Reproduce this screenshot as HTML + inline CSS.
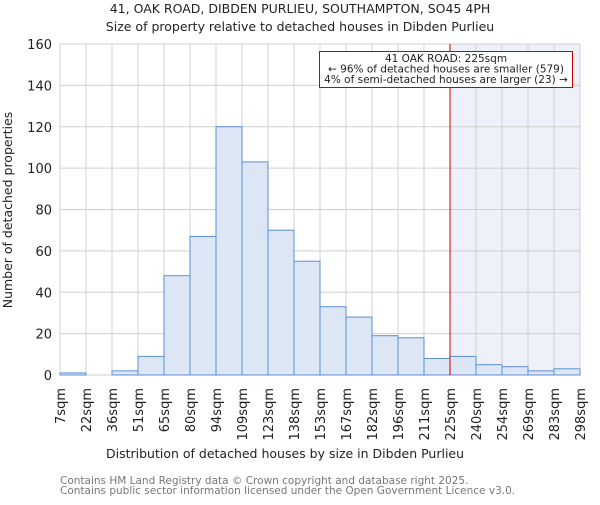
<!DOCTYPE html>
<html><head><meta charset="utf-8"><style>
body{margin:0;background:#fff}
svg{font-family:"DejaVu Sans","Liberation Sans",sans-serif}
</style></head><body>
<svg id="c" width="600" height="500" xmlns="http://www.w3.org/2000/svg">
<text x="300" y="13" text-anchor="middle" font-size="12.5" fill="#222">41, OAK ROAD, DIBDEN PURLIEU, SOUTHAMPTON, SO45 4PH</text>
<text x="300" y="31" text-anchor="middle" font-size="12.5" fill="#222">Size of property relative to detached houses in Dibden Purlieu</text>
<g id="plot"></g>
<text x="285" y="458" text-anchor="middle" font-size="12.5" fill="#222">Distribution of detached houses by size in Dibden Purlieu</text>
<text transform="translate(12,210) rotate(-90)" text-anchor="middle" font-size="12.5" fill="#222">Number of detached properties</text>
<text x="60" y="484" font-size="10.5" fill="#777">Contains HM Land Registry data © Crown copyright and database right 2025.</text>
<text x="60" y="494" font-size="10.5" fill="#777">Contains public sector information licensed under the Open Government Licence v3.0.</text>
</svg>
<script>
const categories=["7sqm","22sqm","36sqm","51sqm","65sqm","80sqm","94sqm","109sqm","123sqm","138sqm","153sqm","167sqm","182sqm","196sqm","211sqm","225sqm","240sqm","254sqm","269sqm","283sqm","298sqm"];
const counts=[1,0,2,9,48,67,120,103,70,55,33,28,19,18,8,9,5,4,2,3];
const yTicks=[0,20,40,60,80,100,120,140,160];
const markerIndex=15;
const L=60,R=580,T=44,B=375,yMax=160;
const n=counts.length,bw=(R-L)/n;
const xs=i=>L+i*bw, ys=v=>B-(v/yMax)*(B-T);
const NS="http://www.w3.org/2000/svg",g=document.getElementById('plot');
function mk(t,a){const e=document.createElementNS(NS,t);for(const k in a)e.setAttribute(k,a[k]);g.appendChild(e);return e;}
let e=mk('rect',{x:xs(markerIndex),y:T,width:R-xs(markerIndex),height:B-T,fill:"#eef1fa"});


yTicks.forEach(v=>{
 let l=mk('line',{x1:L,x2:R,y1:ys(v),y2:ys(v),stroke:"#d0d0d0","stroke-width":1});
 
 
 let t=mk('text',{x:L-8,y:ys(v)+5,"text-anchor":"end","font-size":"13",fill:"#222"});t.textContent=v;
 
 
});
categories.forEach((c,i)=>{
 let l=mk('line',{x1:xs(i),x2:xs(i),y1:T,y2:B,stroke:"#d0d0d0","stroke-width":1});
 
 
 let t=mk('text',{transform:`translate(${xs(i)+5},388) rotate(-90)`,"text-anchor":"end","font-size":"13",fill:"#222"});t.textContent=c;
 
 
});
counts.forEach((v,i)=>{
 let r=mk('rect',{x:xs(i),y:ys(v),width:bw,height:B-ys(v),fill:"#dde6f4",stroke:"#5b8fd6","stroke-width":1});
 
 
});
let m=mk('line',{x1:xs(markerIndex),x2:xs(markerIndex),y1:T,y2:B,stroke:"#cc0000","stroke-width":1});


let bx=mk('rect',{x:319.5,y:51.5,width:253,height:36,fill:"#fff",stroke:"#cc0000","stroke-width":1});


["41 OAK ROAD: 225sqm","← 96% of detached houses are smaller (579)","4% of semi-detached houses are larger (23) →"].forEach((s,k)=>{
 let t=mk('text',{x:446,y:62+k*10.5,"text-anchor":"middle","font-size":"10.5",fill:"#222"});t.textContent=s;
 
 
});
</script>
</body></html>
